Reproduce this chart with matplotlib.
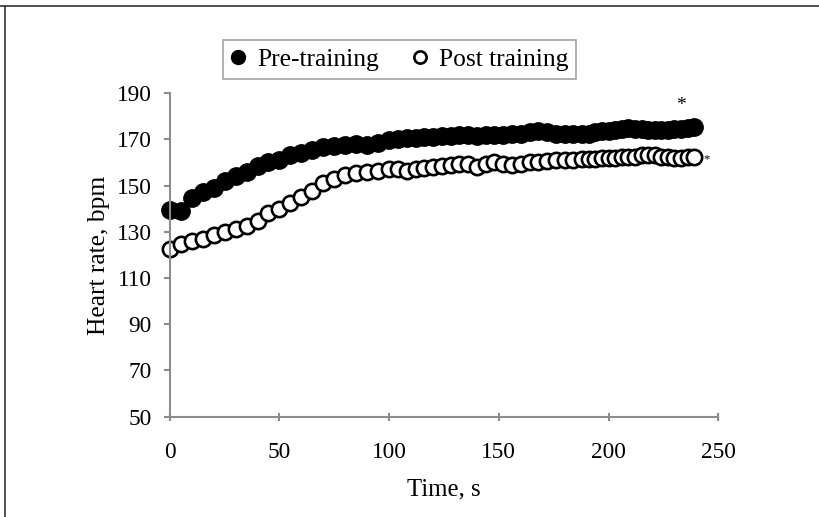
import matplotlib.pyplot as plt
from matplotlib.lines import Line2D

# time points (s) and heart rate (bpm)
time_s = [0, 5, 10, 15, 20, 25, 30, 35, 40, 45, 50, 55, 60, 65, 70, 75, 80, 85, 90, 95,
          100, 104, 108, 112, 116, 120, 124, 128, 132, 136, 140, 144, 148, 152, 156, 160,
          164, 168, 172, 176, 180, 184, 188, 191, 194, 197, 200, 203, 206, 209, 212, 215,
          218, 221, 224, 227, 230, 233, 236, 239]

pre_training = [139.5, 139, 144.5, 147, 149, 152, 154, 156, 158.5, 160, 161, 163, 164, 165.5,
                166.5, 167, 167.5, 168, 167.5, 168.5, 169.5, 170, 170.5, 170.5, 171, 171,
                171.5, 171.5, 172, 172, 171.5, 172, 172, 172, 172.5, 172.5, 173, 173.5, 173,
                172.5, 172.5, 172.5, 172.5, 172.5, 173, 173.5, 173.5, 174, 174.5, 175, 174.5,
                174.5, 174, 174, 174, 174, 174.5, 174.5, 175, 175.5]

post_training = [122.5, 124.5, 126, 127, 128.5, 130, 131, 132.5, 134.5, 138, 140, 142.5, 145,
                 147.5, 151, 153, 154.5, 155.5, 156, 156.5, 157, 157, 156.5, 157, 157.5, 158,
                 158.5, 159, 159.5, 159.5, 158, 159.5, 160, 159.5, 159, 159.5, 160, 160,
                 160.5, 161, 161, 161, 161.5, 161.5, 161.5, 162, 162, 162, 162.5, 162.5,
                 162.5, 163, 163, 163, 162.5, 162.5, 162, 162, 162.5, 162.5]

y_ticks = [50, 70, 90, 110, 130, 150, 170, 190]
x_ticks = [0, 50, 100, 150, 200, 250]

plt.rcParams['font.family'] = ['Liberation Serif', 'DejaVu Serif']
axis_grey = '#8c8c8c'

fig = plt.figure(figsize=(8.2, 5.17), dpi=100)
ax = fig.add_axes([0.207, 0.194, 0.669, 0.626])

ax.plot(time_s, pre_training, 'o', color='black', markersize=12.5, markeredgewidth=1,
        label='Pre-training', clip_on=False)
ax.plot(time_s, post_training, 'o', markerfacecolor='white', markeredgecolor='black',
        markersize=11, markeredgewidth=1.9, label='Post training', clip_on=False)

# significance marks
ax.text(233, 184.8, '*', ha='center', va='center', fontsize=14)
ax.text(244.5, 161.5, '*', ha='center', va='center', fontsize=9)

ax.set_xlim(0, 250)
ax.set_ylim(50, 190)
ax.set_xticks(x_ticks)
ax.set_yticks(y_ticks)

for side in ['top', 'right']:
    ax.spines[side].set_visible(False)
for side in ['left', 'bottom']:
    ax.spines[side].set_color(axis_grey)
    ax.spines[side].set_linewidth(1.5)

ax.tick_params(axis='y', direction='out', length=4, width=1.5, color=axis_grey,
               labelsize=16.8, pad=9)
ax.tick_params(axis='x', direction='inout', length=6, width=1.5, color=axis_grey,
               labelsize=16.8, pad=15)

ax.set_xlabel('Time, s', fontsize=17.8, labelpad=11)
ax.set_ylabel('Heart rate, bpm', fontsize=18.4, labelpad=5)

leg = fig.legend(loc='center', bbox_to_anchor=(0.487, 0.885), ncol=2, fontsize=18.4,
                 frameon=True, fancybox=False, edgecolor=axis_grey, handlelength=0.6,
                 handletextpad=0.45, columnspacing=1.3, borderpad=0.3, markerscale=0.8)
leg.get_frame().set_linewidth(1.2)

# outer frame lines of the original figure panel
fig.add_artist(Line2D([0, 1], [0.988, 0.988], color='#333333', linewidth=1.2,
                      transform=fig.transFigure))
fig.add_artist(Line2D([0.006, 0.006], [0, 0.988], color='#333333', linewidth=1.2,
                      transform=fig.transFigure))

fig.savefig('out.png', dpi=100)
